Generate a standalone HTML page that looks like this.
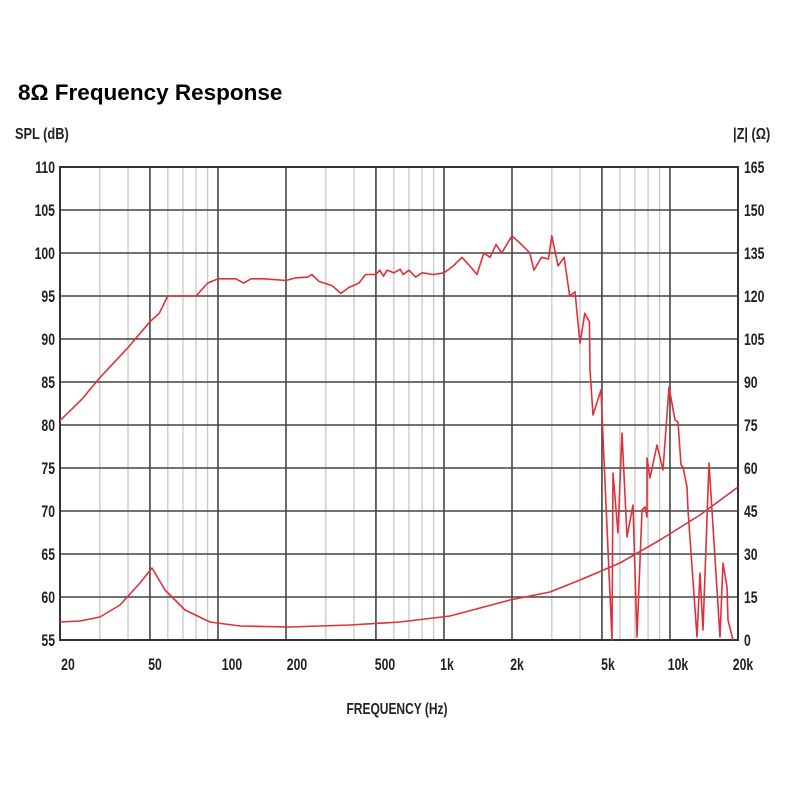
<!DOCTYPE html>
<html><head><meta charset="utf-8"><style>
body{margin:0;background:#fff;width:800px;height:800px;overflow:hidden}
svg text{font-family:"Liberation Sans Narrow","Liberation Sans",sans-serif;font-weight:bold;fill:#222}
</style></head><body>
<svg id="s" width="800" height="800" xmlns="http://www.w3.org/2000/svg">
<text x="18" y="100" style="font-family:'Liberation Sans',sans-serif;font-size:22.5px;fill:#000">8Ω Frequency Response</text>
<text x="15" y="139" font-size="16" transform="translate(15,139) scale(0.8,1) translate(-15,-139)">SPL (dB)</text>
<text x="733" y="139" font-size="16" transform="translate(733,139) scale(0.8,1) translate(-733,-139)">|Z| (Ω)</text>
<text x="397" y="714" font-size="16" text-anchor="middle" transform="translate(397,714) scale(0.75,1) translate(-397,-714)">FREQUENCY (Hz)</text>
</svg>
<script>
var s=document.getElementById('s'),NS='http://www.w3.org/2000/svg';
var L=60,R=738,T=167,B=640;
function X(f){return L+226*Math.log10(f/20);}
function Y(d){return T+(110-d)/5*43;}
function el(n,a,t){var e=document.createElementNS(NS,n);for(var k in a)e.setAttribute(k,a[k]);if(t)e.textContent=t;s.appendChild(e);return e;}
function lab(x,y,t,a){el('text',{x:x,y:y,'font-size':17,'text-anchor':a,transform:'translate('+x+','+y+') scale(0.72,1) translate('+(-x)+','+(-y)+')'},t);}
var thin=[30,40,60,70,80,90,300,400,600,700,800,900,3000,4000,6000,7000,8000,9000];
thin.forEach(function(f){el('line',{x1:X(f),x2:X(f),y1:T,y2:B,stroke:'#c8c8c8','stroke-width':1.3});});
[50,100,200,500,1000,2000,5000,10000].forEach(function(f){el('line',{x1:X(f),x2:X(f),y1:T,y2:B,stroke:'#444','stroke-width':1.6});});
for(var i=0;i<=11;i++){var y=T+i*43;el('line',{x1:L,x2:R,y1:y,y2:y,stroke:'#444','stroke-width':1.6});
 lab(55,y+6,String(110-i*5),'end');lab(744,y+6,String(165-i*15),'start');}
el('rect',{x:L,y:T,width:R-L,height:B-T,fill:'none',stroke:'#333','stroke-width':2});
[[20,68],[50,155],[100,232],[200,297],[500,385],['1k',447],['2k',517],['5k',608],['10k',678],['20k',743]].forEach(function(p){lab(p[1],670,String(p[0]),'middle');});
var spl=[[20,80.5],[25,83],[30,85.5],[40,89],[50,92],[55,93],[60,95],[70,95],[80,95],[90,96.5],[100,97],[120,97],[130,96.5],[140,97],[160,97],[200,96.8],[220,97.1],[250,97.2],[260,97.5],[280,96.7],[320,96.2],[350,95.3],[380,96],[420,96.5],[450,97.5],[500,97.5],[520,98],[540,97.3],[560,98],[600,97.7],[640,98.1],[660,97.5],[700,98],[750,97.2],[800,97.7],[900,97.5],[1000,97.7],[1100,98.5],[1200,99.5],[1300,98.5],[1400,97.5],[1500,100],[1600,99.5],[1700,101],[1800,100],[2000,102],[2200,101],[2400,100],[2500,98],[2700,99.5],[2900,99.3],[3000,102],[3200,98.5],[3400,99.5],[3600,95],[3800,95.5],[4000,89.5],[4200,93],[4400,92]];
var pts=spl.map(function(p){return X(p[0]).toFixed(1)+','+Y(p[1]).toFixed(1);});
pts=pts.concat(['590,370','593,415','601,390','603,437','612,640','613,473','618,533','622,433','627,537','633,505','637,637','642,510','645,507','647,517','647,458','650,478','657,445','663,470','669,387','675,420','678,422','681,465','683,467','687,487','688,510','697,637','700,573','703,630','709,463','720,637','723,563','727,587','728,620','733,640']);
el('polyline',{points:pts.join(' '),fill:'none',stroke:'#e0303a','stroke-width':1.6,'stroke-linejoin':'round'});
var imp='60,622 80,621 100,617 120,605 140,583 152,568 165,590 185,610 210,622 240,626 290,627 350,625 400,622 450,616 510,600 550,592 580,580 620,563 660,540 700,515 738,487';
el('polyline',{points:imp,fill:'none',stroke:'#e0303a','stroke-width':1.6,'stroke-linejoin':'round'});
</script>
</body></html>
